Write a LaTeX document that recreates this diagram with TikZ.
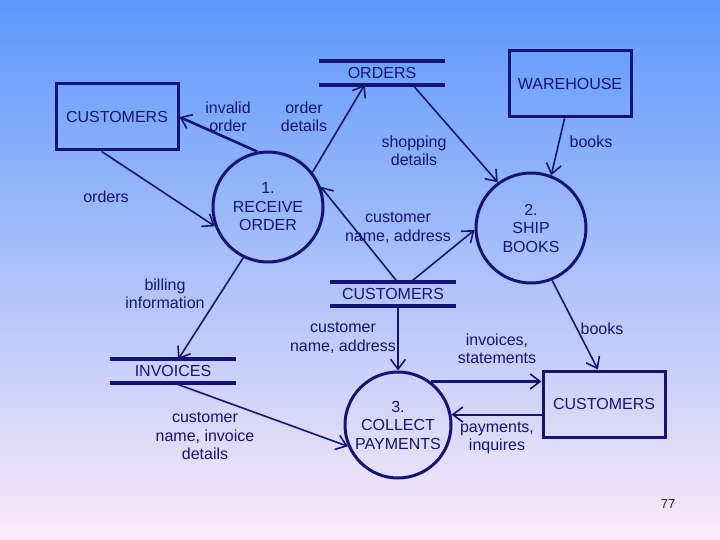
\documentclass[tikz,border=0pt]{standalone}
\usepackage{fontspec}
\setmainfont{Liberation Sans}
\usetikzlibrary{arrows.meta}
\definecolor{dfdnavy}{RGB}{20,20,118}
\definecolor{bgtop}{RGB}{92,152,250}
\definecolor{bgmid}{RGB}{150,200,246}
\definecolor{bgbot}{RGB}{252,234,248}

\begin{document}
\begin{tikzpicture}[x=1pt,y=-1pt,
  every node/.style={text=dfdnavy,font=\fontsize{16}{18.5}\selectfont,align=center},
  ent/.style={draw=dfdnavy,line width=3pt,minimum width=122pt,minimum height=66pt},
  proc/.style={circle,draw=dfdnavy,line width=3pt,minimum size=110pt,inner sep=0pt},
  store/.style={minimum width=125pt,minimum height=23pt,inner sep=0pt},
  flow/.style={draw=dfdnavy,line width=1.6pt,-{Straight Barb[length=10pt,width=15pt,line width=1.6pt]}}]
  % background
  \shade[top color=bgtop,middle color=bgmid,bottom color=bgbot] (0,0) rectangle (720,540);
  \useasboundingbox (0,0) rectangle (720,540);

  % external entities
  \node[ent] (cst1) at (117,117) {CUSTOMERS};
  \node[ent] (wh) at (570,84) {WAREHOUSE};
  \node[ent] (cst2) at (604,404) {CUSTOMERS};

  % processes
  \node[proc] (p1) at (268,207) {1.\\RECEIVE\\ORDER};
  \node[proc] (p2) at (531,228) {2.\\SHIP\\BOOKS};
  \node[proc,minimum size=106pt] (p3) at (398,425) {3.\\COLLECT\\PAYMENTS};

  % data stores
  \node[store] (ord) at (382,73) {ORDERS};
  \node[store] (cst3) at (393,294) {CUSTOMERS};
  \node[store] (inv) at (173,371) {INVOICES};
  \foreach \s in {ord,cst3,inv} {
    \draw[dfdnavy,line width=4pt] (\s.north west) -- (\s.north east)
      (\s.south west) -- (\s.south east);
  }

  % flows
  \draw[flow,line width=2.6pt] (p1.101) -- (cst1.east);
  \draw[flow] (cst1.-114) -- (p1.200);
  \draw[flow] (p1.38) -- (ord.214);
  \draw[flow] (ord.-21) -- (p2.126);
  \draw[flow] (wh.-99) -- (p2.69);
  \draw[flow] (cst3.68) -- (p1.21);
  \draw[flow] (cst3.34) -- (p2.182);
  \draw[flow] (p1.244) -- (inv.66);
  \draw[flow,line width=2pt] (p3.north |- cst3.south) -- (p3.north);
  \draw[flow] (inv.south) -- (p3.203);
  \draw[flow] (p2.-68) -- (cst2.100);
  \draw[flow,line width=2.2pt] (p3.53) -- (p3.53 -| cst2.west);
  \draw[flow,line width=2.2pt] (p3.11 -| cst2.west) -- (p3.11);

  % flow labels
  \node (l1) at (228,117) {invalid\\order};
  \node (l2) at (304,117) {order\\details};
  \node (l3) at (106,197) {orders};
  \node (l4) at (414,151) {shopping\\details};
  \node (l5) at (591,142) {books};
  \node (l6) at (398,228) {customer\\name, address};
  \node (l7) at (165,294) {billing\\information};
  \node (l8) at (343,338) {customer\\name, address};
  \node (l9) at (497,349) {invoices,\\statements};
  \node (l10) at (602,329) {books};
  \node (l11) at (205,436) {customer\\name, invoice\\details};
  \node (l12) at (497,438) {payments,\\inquires};

  \node[text=black!85,font=\fontsize{13}{15}\selectfont] (pg) at (668,504) {77};
\end{tikzpicture}
\end{document}
